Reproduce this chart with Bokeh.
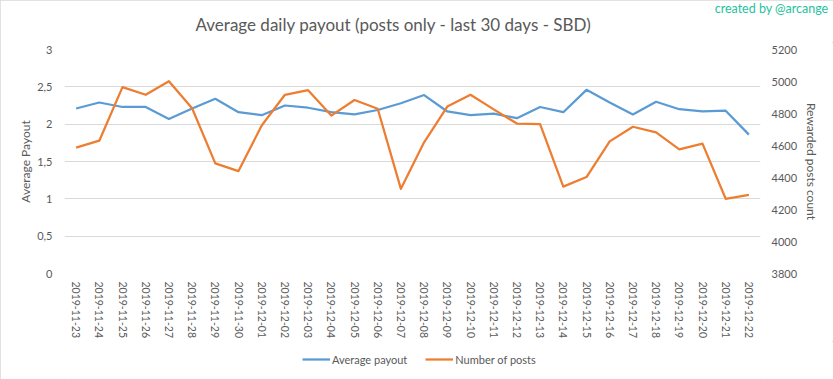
import numpy as np
from bokeh.plotting import figure
from bokeh.layouts import column
from bokeh.models import (Range1d, LinearAxis, FixedTicker, CustomJSTickFormatter,
                          Legend, LegendItem, Label, Title)
from bokeh.embed import file_html
from bokeh.resources import INLINE

dates = ["2019-11-23", "2019-11-24", "2019-11-25", "2019-11-26", "2019-11-27",
         "2019-11-28", "2019-11-29", "2019-11-30", "2019-12-01", "2019-12-02",
         "2019-12-03", "2019-12-04", "2019-12-05", "2019-12-06", "2019-12-07",
         "2019-12-08", "2019-12-09", "2019-12-10", "2019-12-11", "2019-12-12",
         "2019-12-13", "2019-12-14", "2019-12-15", "2019-12-16", "2019-12-17",
         "2019-12-18", "2019-12-19", "2019-12-20", "2019-12-21", "2019-12-22"]
avg_payout = [2.21, 2.29, 2.23, 2.23, 2.07, 2.21, 2.34, 2.16, 2.12, 2.25,
              2.22, 2.16, 2.13, 2.19, 2.28, 2.39, 2.17, 2.12, 2.14, 2.08,
              2.23, 2.16, 2.46, 2.29, 2.13, 2.30, 2.20, 2.17, 2.18, 1.86]
num_posts = [4587, 4630, 4965, 4917, 5002, 4833, 4488, 4440, 4725, 4917,
             4946, 4787, 4884, 4830, 4329, 4620, 4843, 4917, 4826, 4737,
             4734, 4343, 4403, 4626, 4717, 4682, 4576, 4612, 4267, 4291]
left_ticks = [0, 0.5, 1, 1.5, 2, 2.5, 3]
right_ticks = [3800, 4000, 4200, 4400, 4600, 4800, 5000, 5200]
series_names = ["Average payout", "Number of posts"]
series_colors = ["#5b9bd5", "#ed7d31"]

FONT = "Lato"
GRAY = "#595959"

# ---- header strip: credit (title panel) + chart title ----
head = figure(width=833, height=42, x_range=Range1d(64, 760), y_range=Range1d(0, 1),
              x_axis_type=None, y_axis_type=None, output_backend="svg",
              toolbar_location=None, min_border=0)
head.outline_line_color = None
head.grid.visible = False
head.add_layout(Title(text="created by @arcange", align="right", offset=-68,
                      vertical_align="top", standoff=0, text_font=FONT,
                      text_font_size="12.5px", text_font_style="normal",
                      text_color="#26c29e"), "above")
head.add_layout(Label(x=393, y=18.5, x_units="data", y_units="screen",
                      text="Average daily payout (posts only - last 30 days - SBD)",
                      text_align="center", text_baseline="middle", text_font=FONT,
                      text_font_size="17px", text_color=GRAY))

# ---- main chart ----
p = figure(x_range=dates, y_range=Range1d(0, 3), width=833, height=299,
           output_backend="svg", toolbar_location=None,
           min_border_left=64, min_border_right=73, min_border_top=7,
           min_border_bottom=66)
p.extra_y_ranges = {"posts": Range1d(3800, 5200)}
p.outline_line_color = None
p.xgrid.visible = False
p.ygrid.grid_line_color = "#d9d9d9"
p.ygrid.grid_line_width = 1

ya = p.yaxis[0]
ya.ticker = FixedTicker(ticks=left_ticks)
ya.formatter = CustomJSTickFormatter(code="return tick.toString().replace('.', ',');")
ya.axis_label = "Average Payout"

ra = LinearAxis(y_range_name="posts", ticker=FixedTicker(ticks=right_ticks),
                axis_label="Rewarded posts count")
p.add_layout(ra, "right")

xa = p.xaxis[0]
for ax in [ya, ra, xa]:
    ax.axis_line_color = None
    ax.major_tick_line_color = None
    ax.minor_tick_line_color = None
    ax.major_tick_out = 0
    ax.major_tick_in = 0
    ax.minor_tick_out = 0
    ax.minor_tick_in = 0
    ax.major_label_text_font = FONT
    ax.major_label_text_color = GRAY
for ax in [ya, ra]:
    ax.major_label_text_font_size = "11px"
    ax.axis_label_text_font = FONT
    ax.axis_label_text_font_size = "12px"
    ax.axis_label_text_font_style = "normal"
    ax.axis_label_text_color = GRAY
ya.major_label_standoff = 12
ya.axis_label_standoff = 1
ra.major_label_standoff = 11
ra.axis_label_standoff = 4

xa.major_label_orientation = "vertical"
xa.major_label_text_font_size = "10.5px"
xa.major_label_standoff = 8

p.line(dates, avg_payout, line_color=series_colors[0], line_width=2.25, line_join="round")
p.line(dates, num_posts, y_range_name="posts", line_color=series_colors[1],
       line_width=2.25, line_join="round")

# ---- legend strip (keys are empty NaN lines styled like the series) ----
foot = figure(width=833, height=38, x_range=Range1d(0, 1), y_range=Range1d(0, 1),
              x_axis_type=None, y_axis_type=None, output_backend="svg",
              toolbar_location=None, min_border=0)
foot.outline_line_color = None
foot.grid.visible = False
keys = [foot.line(x=np.array([np.nan]), y=np.array([np.nan]), line_color=c, line_width=2.25)
        for c in series_colors]
legend = Legend(items=[LegendItem(label=n, renderers=[k]) for n, k in zip(series_names, keys)],
                orientation="horizontal", location=(238, 12), padding=0, margin=0,
                border_line_color=None, background_fill_alpha=0,
                glyph_width=28, glyph_height=16, label_height=16, label_standoff=2,
                spacing=18, label_text_font=FONT, label_text_font_size="11px",
                label_text_color=GRAY)
foot.add_layout(legend)

layout = column(head, p, foot, spacing=0)
layout.stylesheets = [":host { outline: 1px solid #d9d9d9; outline-offset: -1px; }"]

open("out.html", "w").write(file_html(layout, INLINE))
